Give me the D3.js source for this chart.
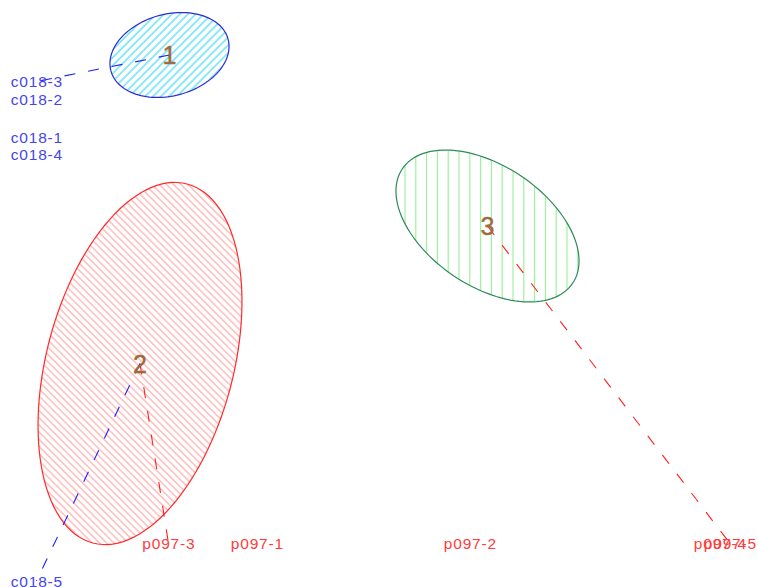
<!DOCTYPE html>
<html>
<head>
<meta charset="utf-8">
<script src="https://cdn.jsdelivr.net/npm/d3@7"></script>
<style>
  html, body { margin: 0; padding: 0; background: #ffffff; }
  svg { display: block; }
</style>
</head>
<body>
<script>
// ---- data (component space, equal aspect) ----
const pointNames  = ["c018-1", "c018-2", "c018-3", "c018-4", "c018-5",
                     "p097-1", "p097-2", "p097-3", "p097-4", "p097-5"];
const pointGroup  = ["c018", "c018", "c018", "c018", "c018",
                     "p097", "p097", "p097", "p097", "p097"];
const pointX      = [-1.135, -1.135, -1.135, -1.135, -1.135, 1.07, 3.20, 0.185, 5.70, 5.80];
const pointY      = [1.50, 1.88, 2.055, 1.33, -2.94, -2.565, -2.565, -2.565, -2.565, -2.565];

const clusterIds  = ["1", "2", "3"];
const clusterCX   = [0.195, -0.10, 3.375];
const clusterCY   = [2.32, -0.765, 0.61];
const clusterA    = [0.607, 1.856, 1.026];   // semi-major
const clusterB    = [0.408, 0.935, 0.602];   // semi-minor
const clusterAng  = [15.2, 75.3, -33.9];     // degrees, major axis vs. component 1

// dashed segments: cluster index -> point name
const segCluster  = [0, 1, 1, 2];
const segPoint    = ["c018-3", "c018-5", "p097-3", "p097-5"];
const segGroup    = ["c018", "c018", "p097", "p097"];

// ---- layout ----
const W = 758, H = 587;
const x = d3.scaleLinear().domain([-1.5, 6.08]).range([0, W]);
const y = d3.scaleLinear().domain([-3.0, 2.87]).range([H, 0]);

const borderCol = ["#2b2bdc", "#ff2a2a", "#2e8b57"];
const hatchCol  = ["#2fd9f2", "#ffa3a3", "#95ee95"];
const hatchRot  = [45, -45, 0];
const hatchGap  = [5.6, 5.1, 10.8];
const groupCol  = { c018: "#4646ee", p097: "#ff3b3b" };
const lineCol   = { c018: "#1f1fff", p097: "#ff2020" };

const svg = d3.select("body").append("svg")
  .attr("width", W).attr("height", H);

const defs = svg.append("defs");
clusterIds.forEach((id, i) => {
  const p = defs.append("pattern")
    .attr("id", "hatch" + i)
    .attr("patternUnits", "userSpaceOnUse")
    .attr("width", hatchGap[i]).attr("height", 20)
    .attr("patternTransform", `rotate(${hatchRot[i]})`);
  p.append("line")
    .attr("x1", hatchGap[i] / 2).attr("x2", hatchGap[i] / 2)
    .attr("y1", -2).attr("y2", 22)
    .attr("stroke", hatchCol[i]).attr("stroke-width", 1.1);
});

// ellipse outlines built in data space
function ellipsePts(i) {
  const t = clusterAng[i] * Math.PI / 180;
  return d3.range(0, 361, 3).map(deg => {
    const u = deg * Math.PI / 180;
    const ex = clusterA[i] * Math.cos(u), ey = clusterB[i] * Math.sin(u);
    return [clusterCX[i] + ex * Math.cos(t) - ey * Math.sin(t),
            clusterCY[i] + ex * Math.sin(t) + ey * Math.cos(t)];
  });
}
const lineGen = d3.line().x(d => x(d[0])).y(d => y(d[1])).curve(d3.curveLinearClosed);

const ell = svg.append("g");
clusterIds.forEach((id, i) => {
  const pts = ellipsePts(i);
  ell.append("path").attr("d", lineGen(pts))
    .attr("fill", `url(#hatch${i})`).attr("stroke", "none");
  ell.append("path").attr("d", lineGen(pts))
    .attr("fill", "none").attr("stroke", borderCol[i]).attr("stroke-width", 1.2);
});

// dashed segments
const segs = svg.append("g");
segCluster.forEach((c, k) => {
  const pi = pointNames.indexOf(segPoint[k]);
  segs.append("line")
    .attr("x1", x(clusterCX[c])).attr("y1", y(clusterCY[c]))
    .attr("x2", x(pointX[pi])).attr("y2", y(pointY[pi]))
    .attr("stroke", lineCol[segGroup[k]]).attr("stroke-width", 1.1)
    .attr("stroke-dasharray", "11,13");
});

// cluster numbers
svg.append("g").selectAll("text").data(clusterIds).join("text")
  .attr("x", (d, i) => x(clusterCX[i]))
  .attr("y", (d, i) => y(clusterCY[i]))
  .attr("dy", "0.36em")
  .attr("text-anchor", "middle")
  .attr("font-family", "Liberation Sans, Arial, sans-serif")
  .attr("font-size", 25)
  .attr("fill", "#9d6b3c")
  .attr("stroke", "#9d6b3c").attr("stroke-width", 0.4)
  .text(d => d);

// point labels
svg.append("g").selectAll("text").data(pointNames).join("text")
  .attr("x", (d, i) => x(pointX[i]) + 0.4)
  .attr("y", (d, i) => y(pointY[i]))
  .attr("dy", "0.36em")
  .attr("text-anchor", "middle")
  .attr("font-family", "Liberation Sans, Arial, sans-serif")
  .attr("font-size", 15.5)
  .attr("letter-spacing", 0.8)
  .attr("fill", (d, i) => groupCol[pointGroup[i]])
  .text(d => d);
</script>
</body>
</html>
